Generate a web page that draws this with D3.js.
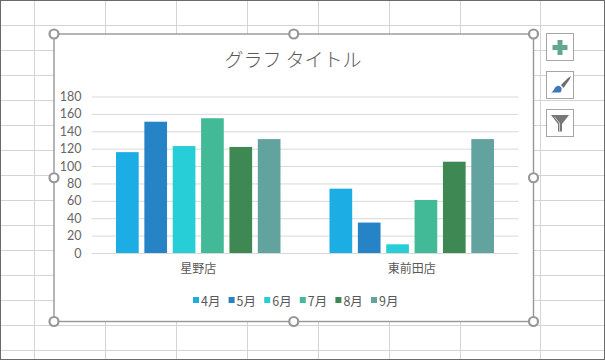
<!DOCTYPE html>
<html>
<head>
<meta charset="utf-8">
<title>グラフ タイトル</title>
<script src="https://d3js.org/d3.v7.min.js"></script>
<style>
  html, body { margin: 0; padding: 0; background: #fff; }
  svg { display: block; }
  text { font-family: "Noto Sans CJK JP", sans-serif; fill: #595959; }
  .y-axis text { font-family: "Lato", "Noto Sans CJK JP", sans-serif; font-size: 12.5px; fill: #666; }
  .x-axis text { font-size: 12px; }
  .legend text { font-size: 12.5px; }
  .title { font-size: 19px; font-weight: 300; }
</style>
</head>
<body>
<div id="chart"></div>
<script>
// chart values
var stores = ["星野店", "東前田店"];
var months = ["4月", "5月", "6月", "7月", "8月", "9月"];
var hoshino = [116, 151, 123, 155, 122, 131];
var higashi = [74, 35, 10, 61, 105, 131];
var colours = ["#1cade4", "#2683c6", "#27ced7", "#42ba97", "#3e8853", "#62a39f"];
var yTicks = [0, 20, 40, 60, 80, 100, 120, 140, 160, 180];

// worksheet behind the chart
var sheetCols = [34, 105, 176, 247, 318, 389, 460, 540];
var sheetRows = [25, 50, 75, 100, 125, 150, 175, 200, 225, 250, 275, 300, 325, 350];

const width = 605, height = 360;
const frame = { left: 54, right: 533.5, top: 34, bottom: 321.5 };
const plot = { left: 91.5, right: 518.5, top: 96.5, bottom: 253 };

const svg = d3.select("#chart").append("svg")
  .attr("width", width)
  .attr("height", height);

// sheet gridlines
svg.selectAll("line.col").data(sheetCols).enter().append("line")
  .attr("x1", d => d + 0.5).attr("x2", d => d + 0.5)
  .attr("y1", 0).attr("y2", height)
  .attr("stroke", "#d4d4d4");
svg.selectAll("line.row").data(sheetRows).enter().append("line")
  .attr("x1", 0).attr("x2", width)
  .attr("y1", d => d + 0.5).attr("y2", d => d + 0.5)
  .attr("stroke", "#d4d4d4");

// window edge
svg.append("rect")
  .attr("x", 0.5).attr("y", 0.5)
  .attr("width", width - 1).attr("height", height - 1)
  .attr("fill", "none").attr("stroke", "#6a6a6a");

// chart area
svg.append("rect")
  .attr("x", frame.left).attr("y", frame.top)
  .attr("width", frame.right - frame.left).attr("height", frame.bottom - frame.top)
  .attr("fill", "#fff").attr("stroke", "#979797").attr("stroke-width", 1.4);

svg.append("text").attr("class", "title")
  .attr("x", 293).attr("y", 67)
  .attr("text-anchor", "middle")
  .text("グラフ タイトル");

const y = d3.scaleLinear().domain([0, 180]).range([plot.bottom, plot.top]);
const x0 = d3.scaleBand().domain(stores).range([plot.left, plot.right]);
const groupWidth = 164.5;
const x1 = d3.scaleBand().domain(months)
  .range([(x0.bandwidth() - groupWidth) / 2, (x0.bandwidth() + groupWidth) / 2])
  .paddingInner(0.2).paddingOuter(0);

// value axis with its gridlines
const gY = svg.append("g").attr("class", "y-axis")
  .attr("transform", `translate(${plot.left},0)`)
  .call(d3.axisLeft(y).tickValues(yTicks).tickSize(-(plot.right - plot.left)).tickPadding(10));
gY.select(".domain").remove();
gY.selectAll("line").attr("stroke", "#d9d9d9");

// bars
[hoshino, higashi].forEach(function(vals, i) {
  svg.append("g")
    .attr("transform", `translate(${x0(stores[i])},0)`)
    .selectAll("rect").data(vals).enter().append("rect")
    .attr("x", (d, j) => x1(months[j]))
    .attr("y", d => y(d))
    .attr("width", x1.bandwidth())
    .attr("height", d => y(0) - y(d))
    .attr("fill", (d, j) => colours[j]);
});

// category axis
const gX = svg.append("g").attr("class", "x-axis")
  .attr("transform", `translate(0,${plot.bottom})`)
  .call(d3.axisBottom(x0).tickSize(0).tickPadding(11));
gX.select(".domain").remove();

// legend
const legendX = d3.scalePoint().domain(months).range([193, 371]);
const legend = svg.append("g").attr("class", "legend")
  .selectAll("g").data(months).enter().append("g")
  .attr("transform", d => `translate(${legendX(d)},297)`);
legend.append("rect")
  .attr("width", 6).attr("height", 6)
  .attr("fill", (d, i) => colours[i]);
legend.append("text")
  .attr("x", 8).attr("y", 8.5)
  .text(d => d);

// selection handles
const handleX = [frame.left, (frame.left + frame.right) / 2, frame.right];
const handleY = [frame.top, (frame.top + frame.bottom) / 2, frame.bottom];
handleX.forEach(function(hx, i) {
  handleY.forEach(function(hy, j) {
    if (i === 1 && j === 1) return;
    svg.append("circle")
      .attr("cx", hx).attr("cy", hy).attr("r", 4.5)
      .attr("fill", "#fff").attr("stroke", "#979797").attr("stroke-width", 2.2);
  });
});

// side buttons
const btnY = [33.5, 71.5, 109.5];
svg.selectAll("rect.btn").data(btnY).enter().append("rect")
  .attr("x", 546.5).attr("y", d => d)
  .attr("width", 27).attr("height", 27)
  .attr("fill", "#fff").attr("stroke", "#a6a6a6");

// plus
svg.append("path")
  .attr("d", "M557.5 40h5v5h5v5h-5v5h-5v-5h-5v-5h5z")
  .attr("fill", "#62a88f");
// brush
svg.append("path")
  .attr("d", "M561 85l7-7 3-2-1.500 3.500-6 8.500z")
  .attr("fill", "#6d6d6d");
svg.append("path")
  .attr("d", "M551 92.500c3-1 3-5 6-6.500 2-1 4 .5 4.500 2 .5 2-.5 4.500-1.500 4.500z")
  .attr("fill", "#3f78b8");
// filter
svg.append("path")
  .attr("d", "M551 115h18l-7 9v7.500h-4v-7.500z")
  .attr("fill", "#777");
svg.append("path")
  .attr("d", "M554.500 117l5 6v8")
  .attr("fill", "none").attr("stroke", "#ccc");
</script>
</body>
</html>
